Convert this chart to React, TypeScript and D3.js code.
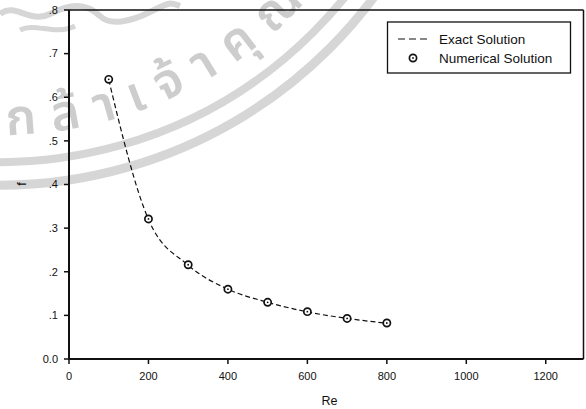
import React from "react";
import * as d3 from "d3";

const reValues = [100, 200, 300, 400, 500, 600, 700, 800];
const exactF = [0.64, 0.32, 0.215, 0.16, 0.13, 0.108, 0.093, 0.082];
const numericalF = [0.641, 0.321, 0.216, 0.16, 0.13, 0.1085, 0.093, 0.0825];
const xTicks = [0, 200, 400, 600, 800, 1000, 1200];
const yTicks = [0, 0.1, 0.2, 0.3, 0.4, 0.5, 0.6, 0.7, 0.8];
const yTickLabels = ["0.0", ".1", ".2", ".3", ".4", ".5", ".6", ".7", ".8"];
const legendLabels = ["Exact Solution", "Numerical Solution"];
const watermarkText = "เกล้าเจ้าคุณทหาร";

const W = 586;
const H = 409;
const FONT = "'Liberation Sans', Arial, Helvetica, sans-serif";

export default function App() {
  const x = d3.scaleLinear().domain([0, 1295]).range([69, 583.5]);
  const y = d3.scaleLinear().domain([0, 0.8]).range([359, 10]);

  const line = d3
    .line<number>()
    .x((_, i) => x(reValues[i]))
    .y((d) => y(d))
    .curve(d3.curveMonotoneX);

  // watermark seal geometry
  const cx = 0;
  const cy = -281;
  const toRad = (deg: number) => (deg * Math.PI) / 180;
  const arc = (r: number, a0: number, a1: number) => {
    const p = d3.path();
    p.moveTo(cx + r * Math.cos(a0), cy + r * Math.sin(a0));
    p.arc(cx, cy, r, a0, a1, true);
    return p.toString();
  };
  const textArc = arc(416, toRad(93.5), toRad(-25));

  const x0 = x(0);
  const xR = x(1295);
  const yB = y(0);
  const yT = y(0.8);

  return (
    <svg
      width={W}
      height={H}
      style={{ position: "absolute", left: 0, top: 0, background: "#fff" }}
    >
      {/* watermark */}
      <g>
        <path d={arc(443, toRad(100), toRad(-10))} fill="none" stroke="#d6d6d6" strokeWidth={8} />
        <path d={arc(466, toRad(100), toRad(-10))} fill="none" stroke="#d6d6d6" strokeWidth={9} />
        <path id="wmArc" d={textArc} fill="none" stroke="none" />
        <text
          fontSize={50}
          fontWeight={600}
          fill="#cdcdcd"
          letterSpacing={16}
          fontFamily="'Noto Sans Thai', 'Noto Sans', sans-serif"
        >
          <textPath href="#wmArc" startOffset={0}>
            {watermarkText}
          </textPath>
        </text>
        <path
          d="M0,14 C15,2 30,24 50,14 S85,2 100,16 C110,26 130,22 150,12 S170,2 180,6"
          fill="none"
          stroke="#d6d6d6"
          strokeWidth={6}
        />
        <path d="M20,30 C35,22 55,36 75,26" fill="none" stroke="#d6d6d6" strokeWidth={5} />
      </g>

      {/* frame */}
      <line x1={x0} x2={xR} y1={yT} y2={yT} stroke="#111" strokeWidth={1.5} />
      <line x1={xR} x2={xR} y1={yT} y2={yB} stroke="#111" strokeWidth={1.5} />
      <line x1={x0} x2={xR} y1={yB} y2={yB} stroke="#111" strokeWidth={2} />
      <line x1={x0} x2={x0} y1={yT} y2={yB} stroke="#111" strokeWidth={2} />

      {/* y axis ticks */}
      {yTicks.map((t, i) => (
        <g key={"y" + i}>
          <line x1={x0 - 5} x2={x0} y1={y(t)} y2={y(t)} stroke="#111" strokeWidth={1.5} />
          <text
            x={58}
            y={y(t)}
            dy="0.35em"
            textAnchor="end"
            fontSize={11}
            fontFamily={FONT}
            fill="#111"
          >
            {yTickLabels[i]}
          </text>
        </g>
      ))}

      {/* x axis ticks */}
      {xTicks.map((t, i) => (
        <g key={"x" + i}>
          <line x1={x(t)} x2={x(t)} y1={yB} y2={yB + 5} stroke="#111" strokeWidth={1.5} />
          <text
            x={x(t)}
            y={379.5}
            textAnchor="middle"
            fontSize={11}
            fontFamily={FONT}
            fill="#111"
          >
            {t}
          </text>
        </g>
      ))}

      {/* axis titles */}
      <text x={329.5} y={405} textAnchor="middle" fontSize={12.5} fontFamily={FONT} fill="#111">
        Re
      </text>
      <text
        transform={`translate(21.5,184) rotate(-90)`}
        textAnchor="middle"
        dy="0.35em"
        fontSize={12.5}
        fontFamily={FONT}
        fill="#111"
      >
        f
      </text>

      {/* exact solution line */}
      <path
        d={line(exactF) || ""}
        fill="none"
        stroke="#111"
        strokeWidth={1.2}
        strokeDasharray="5,3"
      />

      {/* numerical solution markers */}
      {numericalF.map((v, i) => (
        <g key={"m" + i}>
          <circle cx={x(reValues[i])} cy={y(v)} r={3.6} fill="#fff" stroke="#111" strokeWidth={1.7} />
          <circle cx={x(reValues[i])} cy={y(v)} r={0.9} fill="#111" />
        </g>
      ))}

      {/* legend */}
      <rect x={387.5} y={22} width={183} height={51} fill="#fff" stroke="#111" strokeWidth={1.3} />
      <line x1={398} x2={431} y1={39} y2={39} stroke="#111" strokeWidth={1.2} strokeDasharray="7,4" />
      <text x={439} y={39} dy="0.35em" fontSize={13.5} fontFamily={FONT} fill="#111">
        {legendLabels[0]}
      </text>
      <circle cx={413} cy={58} r={3.6} fill="#fff" stroke="#111" strokeWidth={1.7} />
      <circle cx={413} cy={58} r={0.9} fill="#111" />
      <text x={439} y={58} dy="0.35em" fontSize={13.5} fontFamily={FONT} fill="#111">
        {legendLabels[1]}
      </text>
    </svg>
  );
}
